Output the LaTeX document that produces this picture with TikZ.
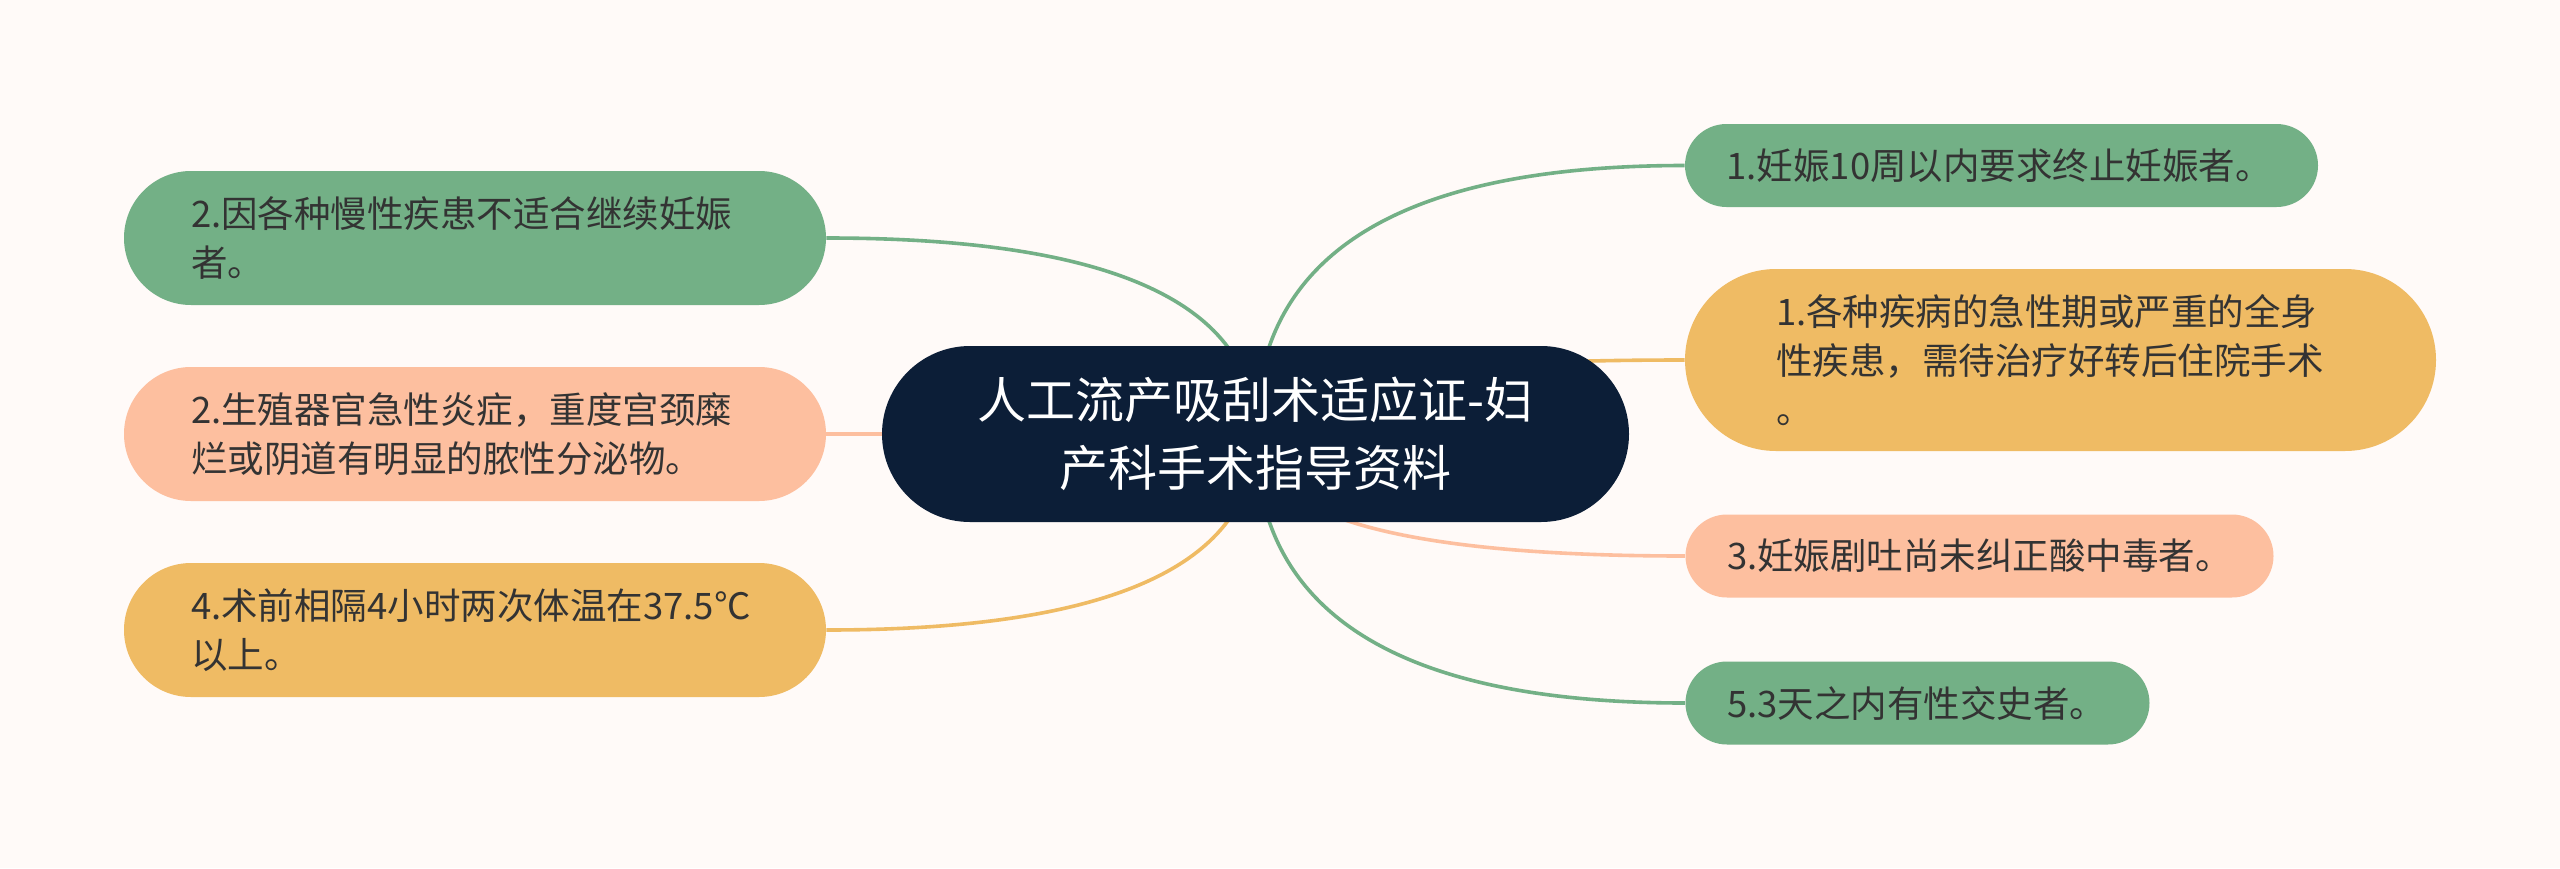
\documentclass[tikz,border=0pt]{standalone}
\usepackage{fontspec}
\setmainfont{Noto Sans CJK SC}
\usetikzlibrary{calc}

\definecolor{pagebg}{HTML}{FFFAF8}
\definecolor{hubnavy}{HTML}{0C1E37}
\definecolor{leafgreen}{HTML}{73B086}
\definecolor{leafpeach}{HTML}{FDBF9F}
\definecolor{leafgold}{HTML}{EFBB64}
\definecolor{leafink}{HTML}{333333}

\pgfdeclarelayer{paper}
\pgfdeclarelayer{links}
\pgfsetlayers{paper,links,main}

\begin{document}
\begin{tikzpicture}[x=0.5pt,y=-0.5pt,
  hub/.style={fill=hubnavy, text=white, font=\fontsize{24.5pt}{34pt}\selectfont,
    align=center, minimum width=373.5pt, minimum height=88pt,
    rounded corners=44pt, inner sep=0pt},
  leaf/.style={text=leafink, font=\fontsize{18.25pt}{24.5pt}\selectfont,
    align=left, inner ysep=2pt},
  wide/.style={text width=284pt, inner xsep=33.5pt, minimum height=67pt,
    rounded corners=33.5pt},
  slim/.style={inner xsep=20.75pt, minimum height=41.5pt, rounded corners=20.75pt},
  branch/.style={line width=1.8pt, to path={.. controls
    ($(\tikztostart)!2/3!(\tikztostart |- \tikztotarget)$) and
    ($(\tikztotarget)!2/3!(\tikztostart |- \tikztotarget)$) .. (\tikztotarget)}}
]

\useasboundingbox (0,0) rectangle (2560,868);
\begin{pgfonlayer}{paper}
\fill[pagebg] (0,0) rectangle (2560,868);
\end{pgfonlayer}

% Central topic
\node[hub] (hub) at (1255.5,434) {人工流产吸刮术适应证-妇\\产科手术指导资料};

% Left branches
\node[leaf, wide, fill=leafgreen] (l1) at (475,238)
  {2.因各种慢性疾患不适合继续妊娠\\者。};
\node[leaf, wide, fill=leafpeach] (l2) at (475,434)
  {2.生殖器官急性炎症，重度宫颈糜\\烂或阴道有明显的脓性分泌物。};
\node[leaf, wide, fill=leafgold] (l3) at (475,630)
  {4.术前相隔4小时两次体温在37.5℃\\以上。};

% Right branches
\node[leaf, slim, text width=275pt, fill=leafgreen] (r1) at (2001.5,165.5)
  {1.妊娠10周以内要求终止妊娠者。};
\node[leaf, text width=284.5pt, inner xsep=45.5pt, minimum height=91pt,
  rounded corners=45.5pt, fill=leafgold] (r2) at (2060.5,360)
  {1.各种疾病的急性期或严重的全身\\性疾患，需待治疗好转后住院手术\\。};
\node[leaf, slim, text width=252.5pt, fill=leafpeach] (r3) at (1979.5,556)
  {3.妊娠剧吐尚未纠正酸中毒者。};
\node[leaf, slim, text width=190.5pt, fill=leafgreen] (r4) at (1917.5,703)
  {5.3天之内有性交史者。};

% Connectors
\begin{pgfonlayer}{links}
\draw[branch, leafgreen] (hub.center) to (l1.east);
\draw[branch, leafpeach] (hub.center) to (l2.east);
\draw[branch, leafgold] (hub.center) to (l3.east);
\draw[branch, leafgreen] (hub.center) to (r1.west);
\draw[branch, leafgold] (hub.center) to (r2.west);
\draw[branch, leafpeach] (hub.center) to (r3.west);
\draw[branch, leafgreen] (hub.center) to (r4.west);
\end{pgfonlayer}

\end{tikzpicture}
\end{document}
